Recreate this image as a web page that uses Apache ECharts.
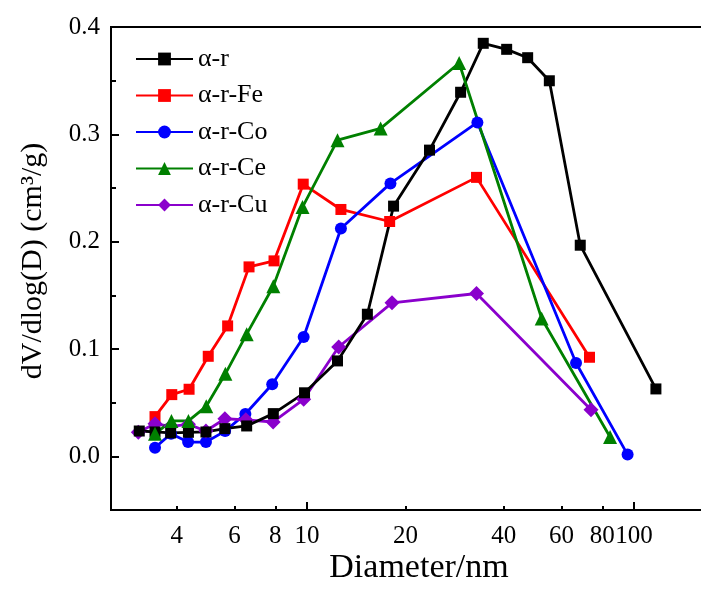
<!DOCTYPE html>
<html>
<head>
<meta charset="utf-8">
<script src="https://cdn.jsdelivr.net/npm/echarts@6/dist/echarts.min.js"></script>
<style>
  html, body { margin: 0; padding: 0; background: #fff; }
  #chart { width: 701px; height: 592px; }
</style>
</head>
<body>
<div id="chart"></div>
<script>
// diameters (nm) and dV/dlog(D) values
const alphaR_x = [3.07, 3.43, 3.83, 4.34, 4.91, 5.61, 6.54, 7.89, 9.83, 12.4, 15.3, 18.4, 23.7, 29.5, 34.6, 40.8, 47.3, 55.1, 68.5, 116.7]
const alphaR_y = [0.0236, 0.0227, 0.0218, 0.0224, 0.0227, 0.0258, 0.0283, 0.0398, 0.0592, 0.0889, 0.1324, 0.2331, 0.2853, 0.3392, 0.3848, 0.3792, 0.3714, 0.3499, 0.1967, 0.0628]

const fe_x = [3.43, 3.86, 4.36, 4.99, 5.72, 6.65, 7.93, 9.74, 12.7, 17.9, 33.0, 73.1]
const fe_y = [0.037, 0.0575, 0.0625, 0.0932, 0.1215, 0.1765, 0.1821, 0.2536, 0.230, 0.2188, 0.2599, 0.0923]

const co_x = [3.43, 3.84, 4.33, 4.91, 5.62, 6.48, 7.83, 9.77, 12.7, 18.0, 33.2, 66.5, 95.6]
const co_y = [0.0081, 0.021, 0.0133, 0.0133, 0.0235, 0.0395, 0.0671, 0.1112, 0.2123, 0.2543, 0.3111, 0.087, 0.0016]

const ce_x = [3.43, 3.85, 4.34, 4.92, 5.63, 6.54, 7.89, 9.69, 12.4, 16.8, 29.2, 52.2, 84.5]
const ce_y = [0.021, 0.033, 0.033, 0.0466, 0.0769, 0.1138, 0.1585, 0.2322, 0.2946, 0.3055, 0.3665, 0.1284, 0.018]

const cu_x = [3.05, 3.43, 3.84, 4.34, 4.91, 5.61, 6.5, 7.88, 9.77, 12.5, 18.2, 33.0, 73.9]
const cu_y = [0.0224, 0.0303, 0.028, 0.0298, 0.0236, 0.035, 0.034, 0.032, 0.0531, 0.1019, 0.143, 0.1517, 0.0434]

const xLabels = [4, 6, 8, 10, 20, 40, 60, 80, 100]
const xMajorTicks = [10, 100]
const xMinorTicks = [4, 6, 8, 20, 40, 60, 80]
const yLabels = [0, 0.1, 0.2, 0.3, 0.4]
const yMinorTicks = [0.05, 0.15, 0.25, 0.35]

const FONT = '"Liberation Serif", "Times New Roman", serif'

const zip = (xs, ys) => xs.map((x, i) => [x, ys[i]])

const chart = echarts.init(document.getElementById('chart'))

const makeSeries = (name, xs, ys, color, symbol, size) => ({
  name: name,
  type: 'line',
  data: zip(xs, ys),
  symbol: symbol,
  symbolSize: size,
  lineStyle: { color: color, width: 2.8 },
  itemStyle: { color: color },
  emphasis: { disabled: true }
})

const xBase = {
  type: 'log',
  logBase: 10,
  min: 2.516,
  max: 172,
  position: 'bottom',
  splitLine: { show: false },
  minorTick: { show: false }
}

const yBase = {
  type: 'value',
  min: -0.05,
  max: 0.4,
  position: 'left',
  splitLine: { show: false }
}

const option = {
  animation: false,
  backgroundColor: '#fff',
  grid: {
    left: 111,
    top: 27,
    width: 600,
    height: 483,
    outerBoundsMode: 'none',
    show: true,
    borderColor: '#000',
    borderWidth: 2,
    backgroundColor: 'transparent'
  },
  legend: {
    data: ['α-r', 'α-r-Fe', 'α-r-Co', 'α-r-Ce', 'α-r-Cu'],
    orient: 'vertical',
    left: 135,
    top: 46,
    padding: 0,
    itemWidth: 57,
    itemHeight: 16,
    itemGap: 10.5,
    textStyle: { fontFamily: FONT, fontSize: 26, color: '#000', lineHeight: 24 }
  },
  xAxis: [
    Object.assign({}, xBase, {
      axisLine: { show: true, onZero: false, lineStyle: { color: '#000', width: 2 } },
      axisTick: { show: true, inside: true, length: 8, customValues: xMajorTicks, lineStyle: { color: '#000', width: 2 } },
      axisLabel: { customValues: xLabels, margin: 14, fontFamily: FONT, fontSize: 25, color: '#000' }
    }),
    Object.assign({}, xBase, {
      axisLine: { show: false, onZero: false },
      axisTick: { show: true, inside: true, length: 4, customValues: xMinorTicks, lineStyle: { color: '#000', width: 2 } },
      axisLabel: { show: false }
    })
  ],
  yAxis: [
    Object.assign({}, yBase, {
      axisLine: { show: true, onZero: false, lineStyle: { color: '#000', width: 2 } },
      axisTick: { show: true, inside: true, length: 8, customValues: yLabels, lineStyle: { color: '#000', width: 2 } },
      axisLabel: {
        customValues: yLabels,
        margin: 11,
        fontFamily: FONT,
        fontSize: 25,
        color: '#000',
        formatter: v => Number(v).toFixed(1)
      }
    }),
    Object.assign({}, yBase, {
      axisLine: { show: false, onZero: false },
      axisTick: { show: true, inside: true, length: 5, customValues: yMinorTicks, lineStyle: { color: '#000', width: 2 } },
      axisLabel: { show: false }
    })
  ],
  graphic: [
    {
      type: 'text',
      x: 33,
      y: 261,
      rotation: Math.PI / 2,
      style: {
        text: 'dV/dlog(D) (cm³/g)',
        fontFamily: FONT,
        fontSize: 30,
        fill: '#000',
        align: 'center',
        verticalAlign: 'middle'
      }
    },
    {
      type: 'text',
      x: 419,
      y: 568,
      style: {
        text: 'Diameter/nm',
        fontFamily: FONT,
        fontSize: 34,
        fill: '#000',
        align: 'center',
        verticalAlign: 'middle'
      }
    }
  ],
  series: [
    makeSeries('α-r-Fe', fe_x, fe_y, '#ff0000', 'rect', 11),
    makeSeries('α-r-Co', co_x, co_y, '#0000ff', 'circle', 12),
    makeSeries('α-r-Cu', cu_x, cu_y, '#8a00cc', 'diamond', 15),
    makeSeries('α-r', alphaR_x, alphaR_y, '#000000', 'rect', 11),
    makeSeries('α-r-Ce', ce_x, ce_y, '#008000', 'triangle', 14)
  ]
}

chart.setOption(option)
</script>
</body>
</html>
